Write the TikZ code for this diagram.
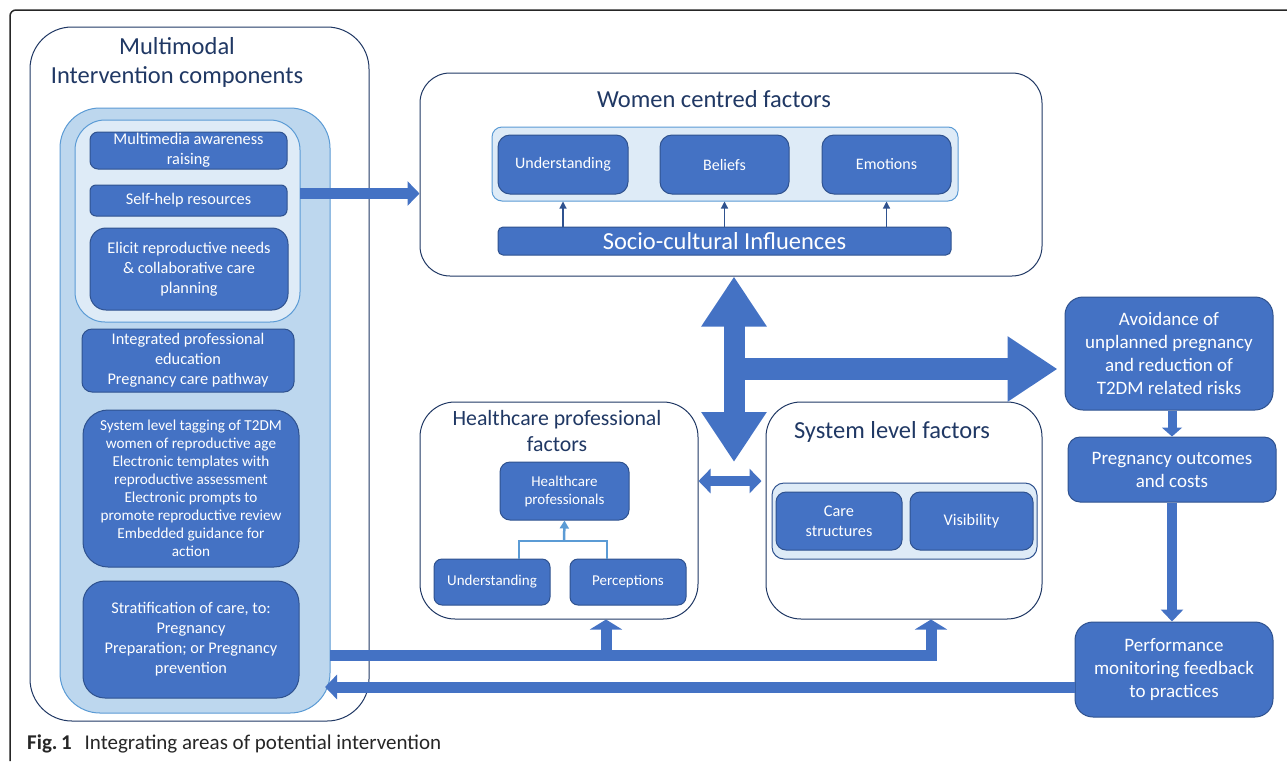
\documentclass[tikz,border=0pt]{standalone}
\usepackage{fontspec}
\setmainfont{Carlito}
\usepackage{xcolor}
\usepackage{tikz}
\usetikzlibrary{arrows.meta, shapes, calc}

\definecolor{blk}{HTML}{4472C4}
\definecolor{blkedge}{HTML}{2F528F}
\definecolor{navy}{HTML}{203864}
\definecolor{paleA}{HTML}{BDD7EE}
\definecolor{paleB}{HTML}{DEEBF7}
\definecolor{midblue}{HTML}{5B9BD5}
\newcommand{\fsz}[2]{\fontsize{#1}{#2}\selectfont}

\begin{document}
\begin{tikzpicture}[x=1pt, y=-1pt]
            \useasboundingbox (0,0) rectangle (1287,761);
            \draw[line width=1.5pt, black!85, rounded corners=6pt] (10,761) -- (10,10) -- (1287,10);

            % outer panels
            \begin{scope}[every node/.style={rectangle,draw=navy,line width=1pt,fill=white,inner sep=0pt}]
                \node[rounded corners=42pt, minimum width=339pt, minimum height=694pt] (MM) at (199.5,374) {};
                \node[rounded corners=30pt, minimum width=622pt, minimum height=203pt] (WC) at (731,174.5) {};
                \node[rounded corners=35pt, minimum width=278pt, minimum height=217pt] (HC) at (559,510.5) {};
                \node[rounded corners=35pt, minimum width=276pt, minimum height=217pt] (SL) at (904,510.5) {};
            \end{scope}

            \begin{scope}[every node/.style={text=navy,align=center,font=\fsz{24.5}{29}}]
                \node (MMt) at (177,62) {Multimodal\\Intervention components};
                \node (WCt) at (714,99) {Women centred factors};
                \node[font=\fsz{21.8}{26}] (HCt) at (557,431) {Healthcare professional\\factors};
                \node (SLt) at (892,432) {System level factors};
            \end{scope}

            % light containers
            \begin{scope}[every node/.style={rectangle,draw=midblue,line width=1pt,fill=paleB,inner sep=0pt}]
                \node[fill=paleA, rounded corners=40pt, minimum width=270pt, minimum height=605pt] (Out) at (195,410.5) {};
                \node[rounded corners=30pt, minimum width=225pt, minimum height=202pt] (In) at (187.5,221) {};
                \node[rounded corners=10pt, minimum width=466pt, minimum height=74pt] (WCin) at (725,164) {};
                \node[draw=blkedge, rounded corners=12pt, minimum width=265pt, minimum height=76pt] (SLin) at (904.5,521) {};
            \end{scope}

            % blocks
            \begin{scope}[every node/.style={rectangle,fill=blk,draw=blkedge,line width=1pt,text=white,
                          align=center,inner sep=0pt,rounded corners=10pt,font=\fsz{16.3}{20}}]
                \node[rounded corners=8pt, minimum width=197pt, minimum height=37pt] (b1) at (188.5,150.5) {Multimedia awareness\\raising};
                \node[rounded corners=6pt, minimum width=197pt, minimum height=31pt] (b2) at (188.5,200.5) {Self-help resources};
                \node[rounded corners=16pt, minimum width=198pt, minimum height=82pt] (b3) at (189,269) {Elicit reproductive needs\\\& collaborative care\\planning};
                \node[minimum width=212pt, minimum height=63pt] (b4) at (188,360.5) {Integrated professional\\education\\Pregnancy care pathway};
                \node[rounded corners=25pt, minimum width=216pt, minimum height=157pt, font=\fsz{15.2}{18}] (b5) at (191,488.5) {System level tagging of T2DM\\women of reproductive age\\Electronic templates with\\reproductive assessment\\Electronic prompts to\\promote reproductive review\\Embedded guidance for\\action};
                \node[rounded corners=22pt, minimum width=216pt, minimum height=117pt] (b6) at (191,639.5) {Stratification of care, to:\\Pregnancy\\Preparation; or Pregnancy\\prevention};

                \node[rounded corners=12pt, minimum width=130pt, minimum height=59pt, font=\fsz{16}{18}] (U1) at (563,164.5) {Understanding};
                \node[rounded corners=12pt, minimum width=129pt, minimum height=59pt, font=\fsz{16}{18}] (B1) at (724.5,164.5) {Beliefs};
                \node[rounded corners=12pt, minimum width=129pt, minimum height=59pt, font=\fsz{16}{18}] (E1) at (886.5,164.5) {Emotions};
                \node[rounded corners=5pt, minimum width=453pt, minimum height=28pt, font=\fsz{24.5}{26}] (Socio) at (724.5,241) {Socio-cultural Influences};

                \node[minimum width=129pt, minimum height=58pt, font=\fsz{15}{18}] (HCP) at (564.5,491) {Healthcare\\professionals};
                \node[rounded corners=8pt, minimum width=116pt, minimum height=46pt, font=\fsz{15}{18}] (HU) at (492,582) {Understanding};
                \node[rounded corners=8pt, minimum width=116pt, minimum height=46pt, font=\fsz{15}{18}] (HP) at (628,582) {Perceptions};

                \node[minimum width=126pt, minimum height=58pt, font=\fsz{16.3}{20}] (CS) at (839,521) {Care\\structures};
                \node[minimum width=123pt, minimum height=58pt, font=\fsz{16.3}{20}] (Vis) at (971.5,521) {Visibility};

                \node[rounded corners=18pt, minimum width=208pt, minimum height=113pt, font=\fsz{19}{23}] (Avoid) at (1169,353.5) {Avoidance of\\unplanned pregnancy\\and reduction of\\T2DM related risks};
                \node[rounded corners=12pt, minimum width=208pt, minimum height=65pt, font=\fsz{19}{23}] (Outc) at (1172,469.5) {Pregnancy outcomes\\and costs};
                \node[rounded corners=18pt, minimum width=198pt, minimum height=95pt, font=\fsz{19}{23}] (Perf) at (1174,669.5) {Performance\\monitoring feedback\\to practices};
            \end{scope}

            \coordinate (sh) at (300,193.5);
            \coordinate (hub) at (734,369);
            \coordinate (mid) at (734,462);
            \coordinate (f0) at (330,655);
            \coordinate (f1) at (606,655);
            \coordinate (f2) at (931,655);
            \coordinate (bk) at (325,687);
            \coordinate (jn) at (564,541);

            % big arrows
            \begin{scope}[>={Triangle[width=62pt,length=50pt]},
                          every edge/.style={draw=blk, line width=21pt}]
                \path [<->] ([xshift=3pt]WC.south) edge (mid);
                \path [->] (hub) edge[line width=22pt, shorten >=7pt] ([yshift=-15.5pt]Avoid.west);
            \end{scope}

            % flow arrows
            \begin{scope}[>={Triangle[width=24pt,length=12pt]},
                          every edge/.style={draw=blk, line width=11pt}]
                \path [->] (sh) edge (sh -| WC.west);
                \path [->] ([yshift=-17.5pt]Perf.west) edge (bk);
                \path [<->, >={Triangle[width=24pt,length=12pt]}] ([yshift=29.5pt]HC.east) edge[line width=10pt, shorten >=4pt] ([yshift=29.5pt]SL.west);
                \path [->, >={Triangle[width=32pt,length=10pt]}] (f1) edge (f1 |- HC.south);
                \draw [draw=blk, line width=11pt, ->, >={Triangle[width=32pt,length=10pt]}] (f0) -- (f2) -- (f2 |- SL.south);
                \path [->, >={Triangle[width=20pt,length=9pt]}] (Outc.north |- Avoid.south) edge[line width=9pt] (Outc.north);
                \path [->, >={Triangle[width=22pt,length=12pt]}] (Outc.south) edge[line width=10pt] (Outc.south |- Perf.north);
            \end{scope}

            % thin arrows
            \begin{scope}[>={Triangle[width=7pt,length=7pt]},
                          every edge/.style={draw=blkedge, line width=1.2pt}]
                \foreach \b in {U1,B1,E1}
                    \path [->] (Socio.north -| \b) edge (\b |- WCin.south);
                \draw [draw=midblue, line width=2.5pt] ([xshift=27pt]HU.north) |- (jn) -| ([xshift=-21pt]HP.north);
                \path [->, >={Triangle[width=9pt,length=8pt]}] (jn) edge[draw=midblue, line width=2.5pt] (HCP.south);
            \end{scope}

            \node[anchor=base west, text=black!85, font=\fsz{21}{24}, inner sep=0pt] (cap) at (27,749) {\textbf{Fig.\,1}\hspace{13pt}Integrating areas of potential intervention};
\end{tikzpicture}
\end{document}
